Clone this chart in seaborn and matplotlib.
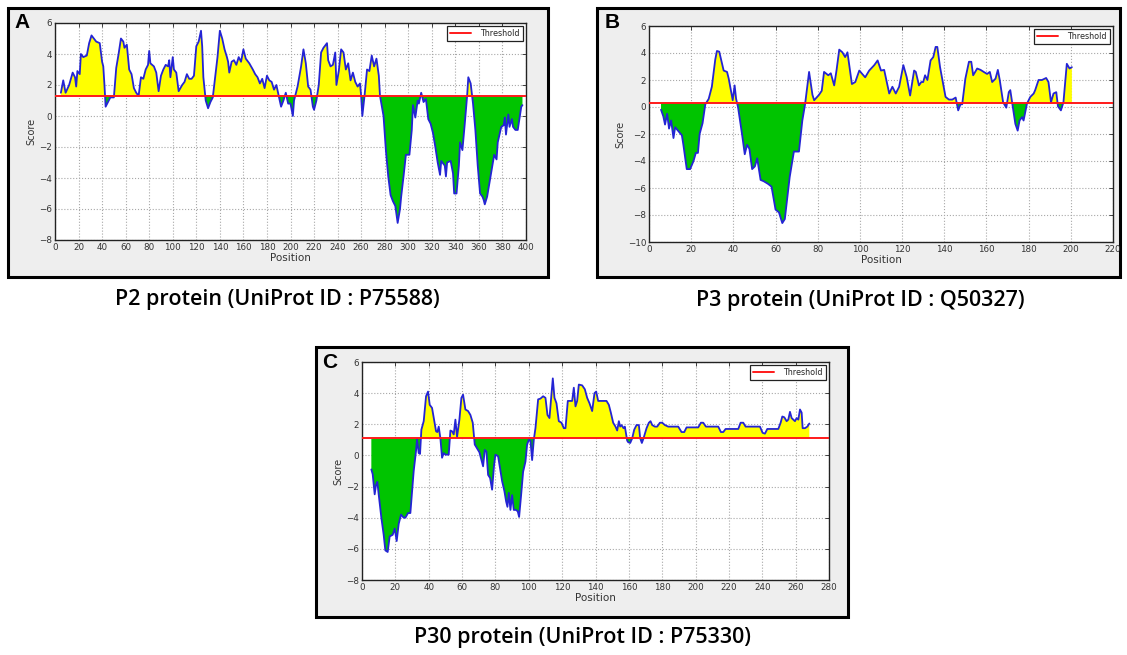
import numpy as np
import pandas as pd
import matplotlib.pyplot as plt
import seaborn as sns
from matplotlib.patches import Rectangle
from matplotlib.lines import Line2D

sns.set_style('white')
plt.rcParams['font.family'] = ['DejaVu Sans']

W, H = 1127, 655

# ---- P2 protein (A) ----
p2_pos = [5, 7, 9, 12, 15, 17, 18, 19, 21, 22, 24, 27, 29, 31, 33, 35, 38, 40, 41, 42,
          43, 45, 47, 50, 52, 54, 56, 58, 59, 61, 63, 65, 67, 69, 71, 73, 75, 77, 79, 80,
          81, 84, 86, 88, 90, 92, 94, 96, 97, 98, 100, 101, 103, 105, 108, 110, 112, 114, 116, 118,
          120, 122, 124, 125, 126, 128, 130, 132, 134, 136, 138, 140, 142, 144, 146, 147, 148, 150, 152, 154,
          156, 158, 160, 162, 165, 168, 170, 172, 174, 176, 178, 180, 182, 184, 186, 188, 190, 192, 194, 196,
          198, 200, 202, 203, 206, 209, 211, 213, 215, 217, 219, 220, 222, 224, 226, 228, 231, 232, 234, 236,
          238, 239, 241, 243, 245, 247, 249, 251, 253, 255, 257, 259, 260, 261, 263, 265, 267, 269, 271, 273,
          275, 276, 279, 281, 283, 285, 287, 289, 291, 293, 294, 296, 298, 301, 303, 304, 306, 308, 309, 311,
          313, 315, 317, 319, 321, 323, 325, 327, 328, 331, 332, 333, 336, 338, 339, 341, 343, 344, 346, 348,
          350, 351, 353, 355, 357, 359, 361, 363, 364, 365, 367, 369, 371, 373, 375, 376, 379, 381, 382, 383,
          385, 386, 388, 389, 391, 393, 396, 397]
p2_score = [1.5, 2.3, 1.5, 2.0, 2.8, 2.5, 1.9, 2.9, 2.7, 4.0, 3.8, 3.9, 4.7, 5.2, 5.0, 4.8, 4.7, 3.5, 3.2, 2.0,
            0.6, 0.9, 1.2, 1.2, 3.1, 4.0, 5.0, 4.8, 4.4, 4.6, 3.0, 2.7, 1.8, 1.5, 1.3, 2.5, 2.4, 3.0, 3.3, 4.2,
            3.4, 3.2, 2.8, 1.6, 2.6, 3.0, 3.3, 3.2, 3.6, 2.5, 3.8, 3.0, 2.8, 1.6, 2.0, 2.2, 2.7, 2.4, 2.4, 2.6,
            4.5, 4.8, 5.5, 4.5, 2.5, 1.0, 0.5, 0.9, 1.2, 2.5, 3.8, 5.5, 5.0, 4.3, 3.8, 3.5, 2.8, 3.5, 3.6, 3.3,
            3.8, 3.5, 4.3, 3.7, 3.4, 3.0, 2.7, 2.5, 2.1, 2.4, 1.8, 2.6, 2.3, 2.2, 1.7, 2.0, 1.3, 0.6, 1.0, 1.5,
            0.8, 0.8, 0.0, 1.0, 1.9, 3.2, 4.3, 3.4, 1.9, 1.7, 0.6, 0.4, 1.0, 2.0, 4.1, 4.4, 4.7, 3.6, 3.2, 3.3,
            4.1, 2.0, 2.9, 4.3, 4.1, 3.0, 3.4, 2.3, 2.8, 2.2, 1.9, 2.1, 1.3, 0.0, 1.4, 3.0, 2.9, 3.9, 3.2, 3.7,
            2.6, 1.3, 0.0, -2.2, -3.9, -5.1, -5.5, -5.8, -6.9, -6.0, -5.2, -3.9, -2.5, -2.5, -0.9, 0.7, -0.1, 1.0, 0.8, 1.5,
            0.9, 1.1, -0.2, -0.5, -1.1, -2.0, -3.0, -3.8, -2.9, -3.2, -3.9, -3.0, -2.9, -3.7, -5.0, -5.0, -3.2, -1.7, -2.2, -0.5,
            1.3, 2.5, 2.1, 0.8, -0.9, -3.2, -5.0, -5.2, -5.4, -5.7, -5.2, -4.3, -3.4, -2.5, -2.8, -1.7, -0.7, -0.6, -0.1, -1.2,
            0.1, -0.7, -0.2, -0.7, -0.9, -0.9, 0.6, 0.7]
p2_threshold = 1.3

# ---- P3 protein (B) ----
p3_pos = [5.7, 6.8, 7.6, 8.6, 9.5, 10.5, 11.6, 12.4, 14, 15.6, 16.3, 17.9, 19.5, 21.1, 22.2, 23.2, 24, 25.4, 26.7, 28.3,
          29.8, 31.4, 32.2, 33.3, 35.4, 37, 37.8, 39.7, 40.6, 41.3, 42.2, 44.1, 45.4, 46.5, 47.6, 48.9, 50.2, 51.3, 52.9, 54.4,
          56.5, 58.1, 60, 61.6, 63.2, 64.4, 66.7, 68.7, 71.1, 72.7, 74, 75.9, 77.5, 78.3, 80.6, 81.9, 83, 85, 86.2, 87.8,
          88.9, 90.2, 91.7, 93, 94.1, 96.2, 97.8, 99.7, 102.5, 104.4, 106.8, 108.4, 110, 111.5, 113.9, 115.4, 117, 118.6, 120.6, 122.2,
          123.8, 125.7, 126.5, 128, 129.1, 130, 130.9, 132, 133.5, 134.8, 135.9, 136.7, 138, 139, 140.6, 142.2, 143.8, 145.4, 146.6, 147.7,
          148.5, 150, 151.7, 152.8, 153.7, 155.6, 157.2, 158.7, 160.3, 161.6, 162.7, 164.3, 165.4, 166.3, 167.9, 169.4, 170.6, 171.3, 172.4, 173.7,
          174.8, 175.7, 176.9, 177.6, 179.2, 180.8, 182.4, 183.1, 184.7, 186.3, 188.3, 189.4, 190.6, 191.8, 193.1, 193.9, 195.3, 196.5, 198.1, 199.4,
          200.5]
p3_score = [-0.2, -0.7, -1.3, -0.5, -1.6, -1.0, -2.3, -1.5, -1.8, -2.1, -2.8, -4.6, -4.6, -4.0, -3.4, -3.4, -2.0, -1.2, 0.2, 0.6,
            1.5, 3.5, 4.15, 4.1, 2.7, 2.6, 2.1, 0.5, 1.6, 0.6, 0.0, -2.0, -3.5, -2.8, -3.1, -4.6, -4.4, -3.8, -5.4, -5.5,
            -5.7, -5.9, -7.6, -7.8, -8.6, -8.3, -5.2, -3.3, -3.3, -1.0, 0.2, 2.6, 0.9, 0.5, 0.9, 1.2, 2.6, 2.35, 2.5, 1.6,
            2.7, 4.25, 4.05, 3.7, 4.05, 1.7, 1.85, 2.7, 2.2, 2.7, 3.1, 3.45, 2.7, 2.75, 1.0, 1.5, 1.0, 1.5, 3.1, 2.2,
            0.85, 2.7, 2.6, 1.6, 1.85, 1.85, 2.35, 2.0, 3.45, 3.7, 4.45, 4.45, 2.95, 2.1, 0.75, 0.55, 0.55, 0.7, -0.25, 0.2,
            0.2, 2.1, 3.35, 3.35, 2.35, 2.85, 2.75, 2.6, 2.45, 2.6, 1.85, 2.1, 2.75, 2.0, 0.35, -0.05, 1.1, 1.25, 0.1, -1.25,
            -1.75, -1.0, -0.75, -1.0, 0.25, 0.75, 1.0, 1.25, 2.0, 2.0, 2.15, 1.85, 0.35, 1.0, 1.1, 0.05, -0.25, 0.35, 3.2, 2.85,
            2.95]
p3_threshold = 0.3

# ---- P30 protein (C) ----
p30_pos = [5.6, 6.4, 7.6, 8.4, 9.2, 10, 11.6, 13, 14, 15.4, 16.6, 18.4, 19.6, 20.8, 22, 23.4, 25, 26, 27.6, 29,
           31, 32.4, 33, 34, 34.8, 35.6, 37, 38.4, 39.6, 40.6, 42, 43.2, 44.4, 45.2, 46, 47, 48, 49, 50, 52,
           53, 54, 55, 56, 57, 58.4, 59.6, 60.6, 62, 63.6, 65, 66.4, 67.6, 69, 70.4, 71.6, 72.6, 73.6, 74.6, 75.6,
           76.8, 78, 79.2, 80, 81.6, 82.6, 84, 85.4, 86.4, 87.2, 88, 89, 90, 91, 92.4, 93.4, 94.2, 95.4, 96.6, 98,
           99, 100, 101, 102, 103, 104, 105.6, 107, 108.6, 110, 111.2, 112.4, 113.6, 114.4, 115.4, 116.6, 118, 119.6, 121, 122,
           123.4, 125, 126, 127, 128, 129, 130, 132, 133.6, 135, 136.4, 138, 139.4, 140.4, 141.6, 143.6, 146.6, 148, 149.2, 150.6,
           152, 153, 154, 154.8, 155.6, 156.8, 157.6, 159, 159.6, 160.8, 162, 163.2, 164.6, 166, 166.8, 167.8, 168.8, 170.6, 172, 173,
           174, 175.6, 177, 178.6, 180, 181.6, 183.6, 189.6, 191.6, 193.2, 194.6, 201.6, 203.2, 204.6, 206.2, 213.6, 215.2, 216.6, 218, 225.6,
           227, 228.6, 230, 238.6, 240.2, 241.6, 243, 249.6, 251, 252, 253.2, 254.6, 255.6, 256.6, 257.6, 258.6, 259.6, 260.6, 261.6, 262.6,
           263.6, 264.2, 265.6, 267, 268.2]
p30_score = [-0.9, -1.2, -2.5, -1.9, -1.7, -2.5, -4.0, -5.1, -6.1, -6.2, -5.2, -5.1, -4.7, -5.5, -4.4, -3.8, -4.0, -4.0, -3.7, -3.7,
             -1.0, 0.3, 1.05, 0.15, 0.1, 1.65, 2.2, 3.8, 4.1, 3.25, 3.05, 2.3, 1.55, 1.5, 1.85, 1.1, -0.15, 0.15, 0.05, 0.05,
             1.6, 1.55, 1.35, 2.3, 1.2, 2.3, 3.7, 3.9, 2.95, 2.85, 2.6, 2.1, 0.7, 0.45, 0.2, -0.3, -0.7, 0.35, 0.25, -1.25,
             -1.45, -2.2, -0.6, 0.05, -0.05, -0.7, -1.65, -2.3, -2.95, -3.3, -2.4, -3.5, -2.55, -3.5, -3.5, -3.6, -3.95, -2.55, -1.05, -0.4,
             0.7, 1.0, 0.95, -0.3, 1.0, 1.75, 3.6, 3.65, 3.8, 3.7, 2.6, 2.4, 3.9, 4.95, 3.7, 3.35, 2.2, 2.1, 1.75, 1.75,
             3.5, 3.5, 3.5, 4.35, 3.15, 3.5, 4.55, 4.5, 4.25, 3.7, 3.35, 2.85, 4.0, 4.1, 3.5, 3.5, 3.5, 3.25, 2.75, 2.1,
             1.85, 1.6, 2.2, 1.85, 1.95, 1.75, 1.85, 0.95, 0.85, 0.8, 1.1, 1.65, 1.95, 1.95, 1.1, 0.8, 1.1, 1.75, 2.1, 2.2,
             1.95, 1.85, 1.85, 2.1, 2.1, 1.95, 1.85, 1.85, 1.5, 1.5, 1.8, 1.8, 2.1, 2.1, 1.85, 1.85, 1.5, 1.5, 1.7, 1.7,
             2.1, 2.1, 1.85, 1.85, 1.45, 1.4, 1.7, 1.7, 2.1, 2.5, 2.45, 2.2, 2.3, 2.8, 2.4, 2.3, 2.2, 2.4, 2.3, 2.95,
             2.75, 1.75, 1.75, 1.85, 2.05]
p30_threshold = 1.1

fig = plt.figure(figsize=(W / 100, H / 100), dpi=100)
fig.patch.set_facecolor('white')


def panel(box, ax_px, pos, score, thr, xmax, ymin, letter, letter_xy, caption, caption_xy):
    # grey framed box behind each plot
    x0, y0, x1, y1 = box
    fig.add_artist(Rectangle((x0 / W, 1 - y1 / H), (x1 - x0) / W, (y1 - y0) / H,
                             transform=fig.transFigure, facecolor='#eeeeee',
                             edgecolor='black', lw=2.2, zorder=0))
    l, t, r, b = ax_px
    ax = fig.add_axes([l / W, 1 - b / H, (r - l) / W, (b - t) / H])
    ax.set_facecolor('white')

    df = pd.DataFrame({'Position': pos, 'Score': score})
    xs = df['Position'].to_numpy()
    ys = df['Score'].to_numpy()
    ax.fill_between(xs, ys, thr, where=ys >= thr, interpolate=True, color='#ffff00', lw=0, zorder=1)
    ax.fill_between(xs, ys, thr, where=ys <= thr, interpolate=True, color='#00c400', lw=0, zorder=1)
    sns.lineplot(data=df, x='Position', y='Score', ax=ax, color='#2424d4', lw=1.3,
                 sort=False, zorder=3)
    ax.axhline(thr, color='#ff1a1a', lw=1.4, zorder=4)

    ax.set_xlim(0, xmax)
    ax.set_ylim(ymin, 6)
    ax.set_xticks(np.arange(0, xmax + 1, 20))
    ax.set_yticks(np.arange(ymin, 7, 2))
    ax.grid(True, ls=':', color='#a8a8a8', lw=0.8)
    ax.set_axisbelow(True)
    ax.tick_params(direction='in', top=True, right=True, length=3, width=0.6,
                   labelsize=6.3, labelcolor='#333333', pad=2)
    for s in ax.spines.values():
        s.set_color('#222222')
        s.set_linewidth(1.0)
    ax.set_xlabel('Position', fontsize=7.5, color='#333333', labelpad=1)
    ax.set_ylabel('Score', fontsize=7, color='#333333', labelpad=2)

    handle = Line2D([], [], color='#ff1a1a', lw=1.4)
    leg = ax.legend([handle], ['Threshold'], loc='upper right', fontsize=5.8,
                    fancybox=False, framealpha=1, edgecolor='#222222',
                    handlelength=2.6, handletextpad=1.2, borderpad=0.35, borderaxespad=0.4)
    leg.get_frame().set_linewidth(0.9)

    fig.text(letter_xy[0] / W, 1 - letter_xy[1] / H, letter, fontsize=15, color='black',
             fontweight='bold', family='Liberation Sans', ha='center', va='center')
    fig.text(caption_xy[0] / W, 1 - caption_xy[1] / H, caption, fontsize=15.5, color='black',
             family='Open Sans', fontweight='semibold', ha='center', va='center')


panel((8, 8, 548, 277), (55, 23, 526, 240), p2_pos, p2_score, p2_threshold, 400, -8,
      'A', (22, 22), 'P2 protein (UniProt ID : P75588)', (277, 299))
panel((597, 8, 1120, 277), (649, 26, 1113, 242), p3_pos, p3_score, p3_threshold, 220, -10,
      'B', (612, 22), 'P3 protein (UniProt ID : Q50327)', (860, 301))
panel((316, 347, 848, 617), (362, 362, 829, 580), p30_pos, p30_score, p30_threshold, 280, -8,
      'C', (330, 362), 'P30 protein (UniProt ID : P75330)', (582, 637))

fig.savefig('out.png', dpi=100)
